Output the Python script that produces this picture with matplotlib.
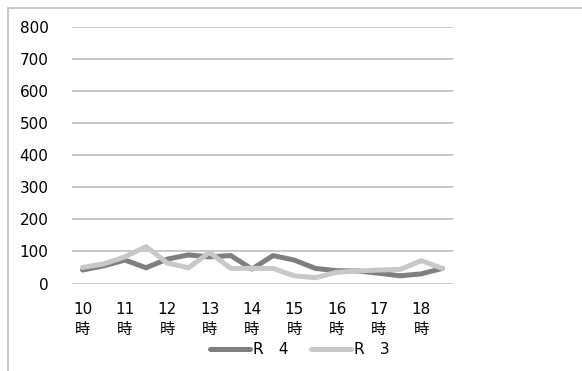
import matplotlib
matplotlib.use("Agg")
import matplotlib.pyplot as plt
from matplotlib.lines import Line2D

plt.rcParams['font.family'] = ['DejaVu Sans', 'Noto Sans CJK JP']

categories = ["10時", "10時30分", "11時", "11時30分", "12時", "12時30分", "13時", "13時30分",
              "14時", "14時30分", "15時", "15時30分", "16時", "16時30分", "17時", "17時30分",
              "18時", "18時30分"]
tick_labels = ["10\n時", "11\n時", "12\n時", "13\n時", "14\n時", "15\n時", "16\n時", "17\n時", "18\n時"]
r4 = [42, 55, 73, 49, 76, 89, 83, 87, 45, 87, 73, 47, 40, 39, 32, 24, 30, 47]
r3 = [50, 61, 83, 115, 64, 49, 97, 47, 47, 47, 24, 18, 35, 39, 42, 44, 71, 47]
series_names = ["R\u30004", "R\u30003"]
yticks = [0, 100, 200, 300, 400, 500, 600, 700, 800]

W, H = 582, 371
fig = plt.figure(figsize=(W / 100, H / 100), dpi=100)
ax = fig.add_axes([72 / W, (H - 283.5) / H, 381 / W, (283.5 - 26.7) / H])

x = list(range(len(categories)))
l1, = ax.plot(x, r4, color='#7f7f7f', lw=3.6, solid_capstyle='round', solid_joinstyle='round', zorder=3)
l2, = ax.plot(x, r3, color='#c8c8c8', lw=3.6, solid_capstyle='round', solid_joinstyle='round', zorder=3)

ax.set_xlim(-0.5, len(categories) - 0.5)
ax.set_ylim(0, 800)
ax.set_yticks(yticks)
ax.set_yticklabels([str(v) for v in yticks], fontsize=11)
ax.set_xticks(x[::2])
ax.set_xticklabels(tick_labels, fontsize=11, linespacing=1.45)
ax.tick_params(length=0)
ax.tick_params(axis='y', pad=17)
ax.tick_params(axis='x', pad=13)
for s in ax.spines.values():
    s.set_visible(False)
ax.grid(axis='y', color='#bfbfbf', lw=1.2)
ax.set_axisbelow(True)

# outer chart frame (partially cropped)
fig.add_artist(Line2D([8 / W, 8 / W], [0, 1 - 8 / H], color='#c8c8c8', lw=1.5, transform=fig.transFigure))
fig.add_artist(Line2D([8 / W, 1], [1 - 8 / H, 1 - 8 / H], color='#c8c8c8', lw=1.5, transform=fig.transFigure))

fig.legend([l1, l2], series_names, loc='center', bbox_to_anchor=(300 / W, 1 - 350 / H),
           ncol=2, frameon=False, fontsize=11, handlelength=2.6, handletextpad=0.2,
           columnspacing=1.5)

fig.savefig("out.png", dpi=100)
